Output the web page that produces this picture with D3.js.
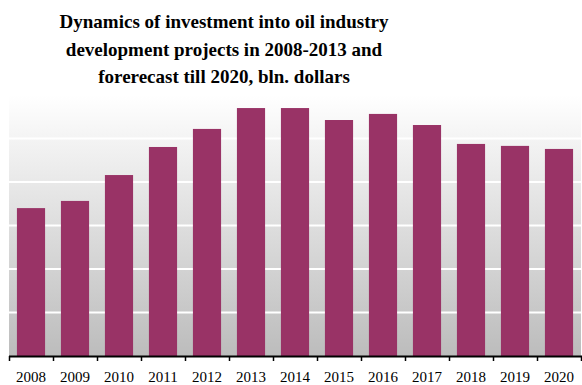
<!DOCTYPE html>
<html>
<head>
<meta charset="utf-8">
<style>
body { margin: 0; background: #fff; }
svg { display: block; }
</style>
</head>
<body>
<script src="https://cdn.jsdelivr.net/npm/d3@7"></script>
<script>
var years = ["2008","2009","2010","2011","2012","2013","2014","2015","2016","2017","2018","2019","2020"];
var investment = [68, 71.3, 83.2, 96.1, 104.4, 114, 114, 108.5, 111.3, 106.2, 97.5, 96.6, 95.2];
var gridTicks = [20, 40, 60, 80, 100, 120];
var titleLines = ["Dynamics of investment into oil industry",
                  "development projects in 2008-2013 and",
                  "forerecast till 2020, bln. dollars"];

var w = 582, h = 385;
var pLeft = 9, pRight = 581, pTop = 95, pBottom = 356; // plot area

var svg = d3.select("body").append("svg").attr("width", w).attr("height", h);

// background gradient of plot area
var grad = svg.append("defs").append("linearGradient")
  .attr("id", "bg").attr("x1", 0).attr("y1", 0).attr("x2", 0).attr("y2", 1);
grad.append("stop").attr("offset", "0%").attr("stop-color", "#ffffff");
grad.append("stop").attr("offset", "100%").attr("stop-color", "#bcbcbc");

svg.append("rect")
  .attr("x", pLeft).attr("y", pTop)
  .attr("width", pRight - pLeft).attr("height", pBottom - pTop)
  .attr("fill", "url(#bg)");

var x = d3.scaleBand().domain(years).range([pLeft, pRight]).paddingInner(0.36).paddingOuter(0.18);
var y = d3.scaleLinear().domain([0, 120]).range([pBottom, pTop]);

// grid
svg.append("g").selectAll("line").data(gridTicks).enter().append("line")
  .attr("x1", pLeft).attr("x2", pRight)
  .attr("y1", function(d){ return y(d); })
  .attr("y2", function(d){ return y(d); })
  .attr("stroke", "#ffffff").attr("stroke-width", 2);

// bars
svg.append("g").selectAll("rect").data(investment).enter().append("rect")
  .attr("x", function(d, i){ return x(years[i]); })
  .attr("y", function(d){ return y(d); })
  .attr("width", x.bandwidth())
  .attr("height", function(d){ return y(0) - y(d); })
  .attr("fill", "#993366");

// x axis
var step = x.step();
var ax = svg.append("g");
ax.append("line").attr("x1", pLeft).attr("x2", pRight + 1)
  .attr("y1", pBottom + 0.5).attr("y2", pBottom + 0.5)
  .attr("stroke", "#000").attr("stroke-width", 2);
ax.selectAll("line.tk").data(d3.range(years.length + 1)).enter().append("line")
  .attr("class", "tk")
  .attr("x1", function(i){ return Math.round(pLeft + i * step) + 0.5; })
  .attr("x2", function(i){ return Math.round(pLeft + i * step) + 0.5; })
  .attr("y1", pBottom).attr("y2", pBottom + 5)
  .attr("stroke", "#000").attr("stroke-width", 1.5);
ax.selectAll("text").data(years).enter().append("text")
  .attr("x", function(d){ return x(d) + x.bandwidth() / 2; })
  .attr("y", 382)
  .attr("text-anchor", "middle")
  .attr("font-family", "'Liberation Serif', 'Times New Roman', serif")
  .attr("font-size", "15px")
  .attr("fill", "#000")
  .text(function(d){ return d; });

// title
svg.append("g").selectAll("text").data(titleLines).enter().append("text")
  .attr("x", 224)
  .attr("y", function(d, i){ return 28 + i * 27.5; })
  .attr("text-anchor", "middle")
  .attr("font-family", "'Liberation Serif', 'Times New Roman', serif")
  .attr("font-weight", "bold")
  .attr("font-size", "19px")
  .attr("fill", "#000")
  .text(function(d){ return d; });
</script>
</body>
</html>
